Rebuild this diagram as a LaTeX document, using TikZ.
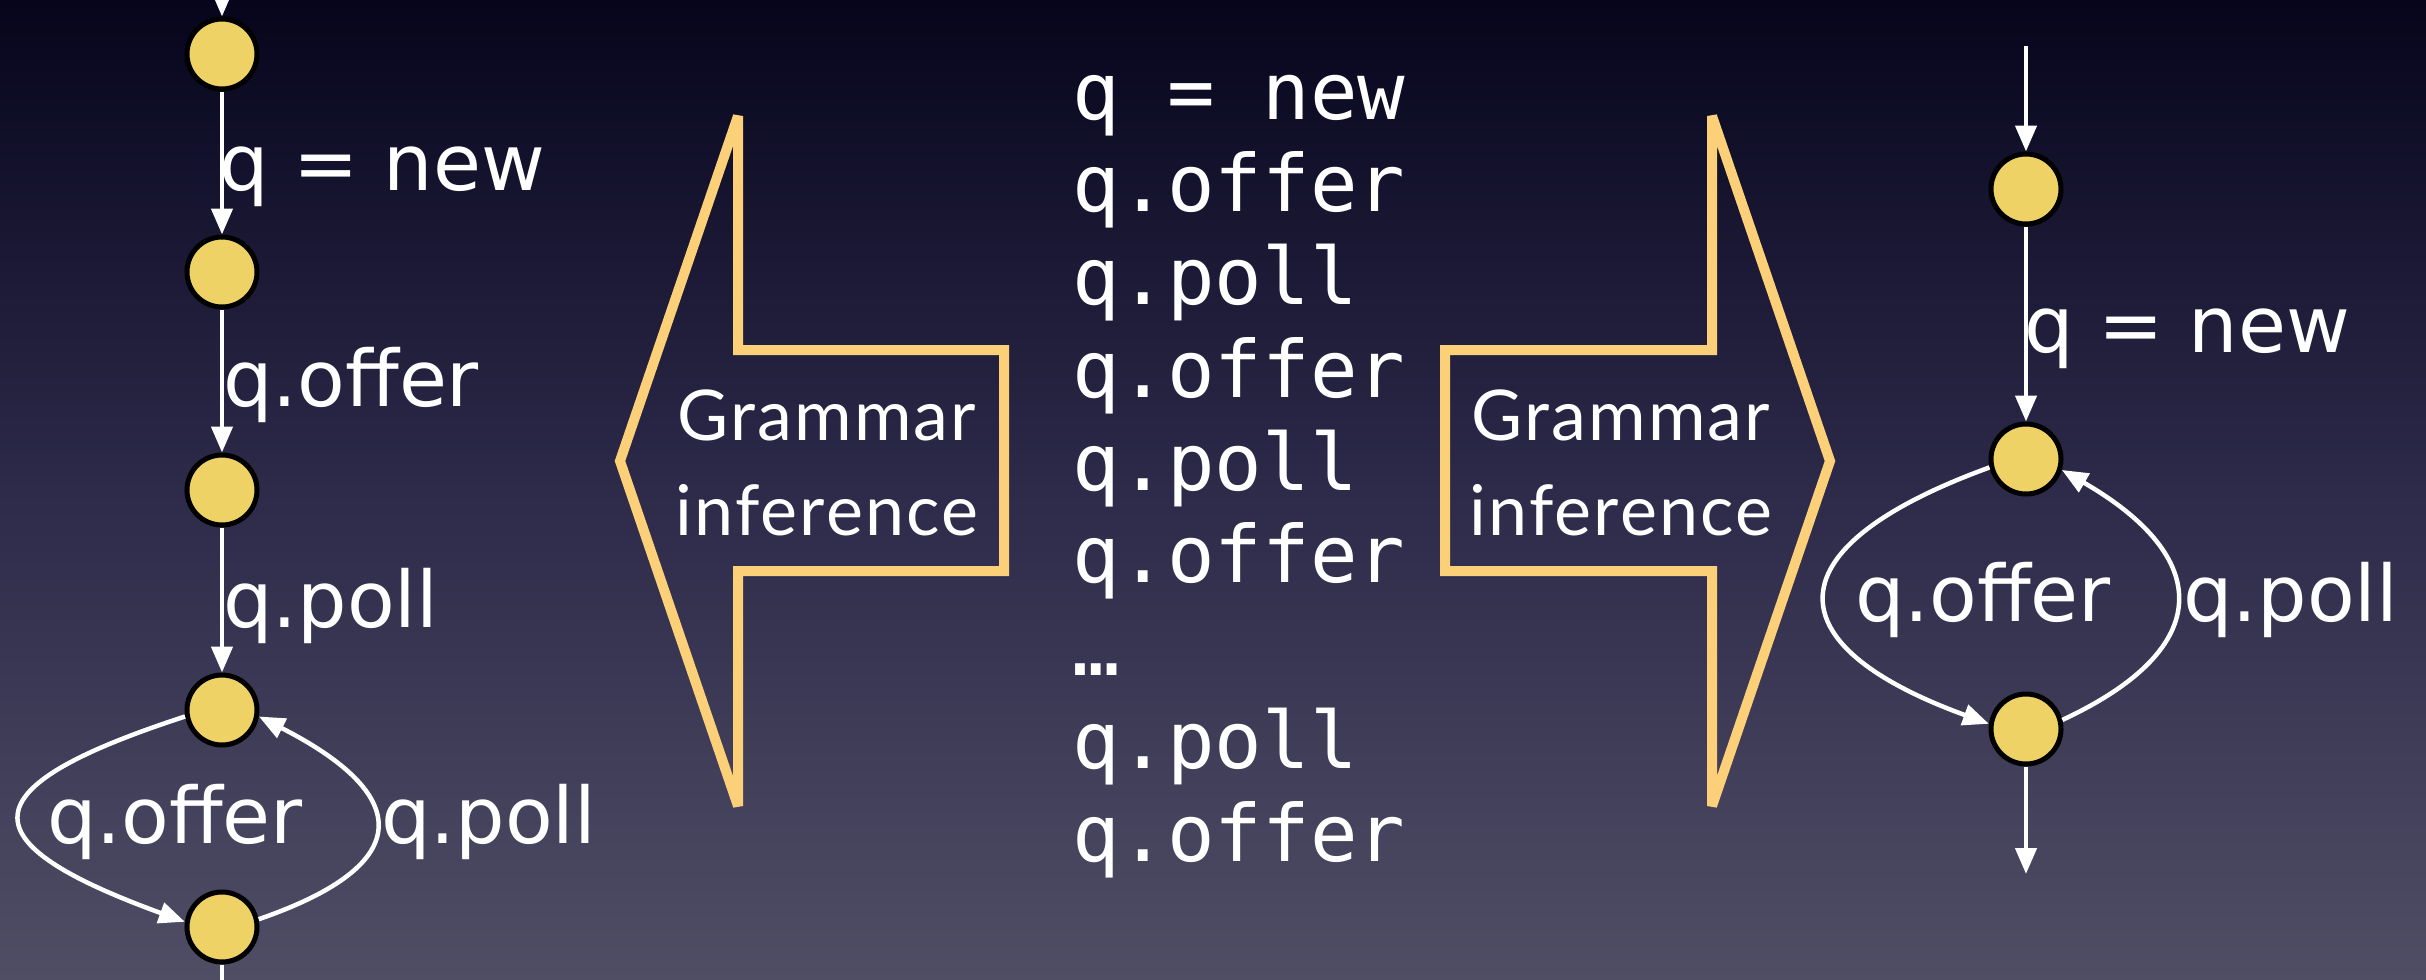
\documentclass[tikz,border=0pt]{standalone}
\usepackage{fontspec}
\setmainfont{DejaVu Sans}
\newfontfamily\monofont{DejaVu Sans Mono}
\newfontfamily\gillfont[LetterSpace=3]{Lato}
\usetikzlibrary{arrows.meta}
\definecolor{bgtop}{RGB}{6,5,28}
\definecolor{bgmid}{RGB}{45,42,74}
\definecolor{bgbot}{RGB}{80,78,101}
\definecolor{statefill}{RGB}{238,210,102}
\definecolor{arrowgold}{RGB}{252,208,120}
\begin{document}
\begin{tikzpicture}[x=1pt,y=1pt,
  state/.style={circle, fill=statefill, draw=black, line width=5pt, minimum size=70pt, inner sep=0pt},
  edge/.style={draw=white, line width=4.5pt, -{Triangle[length=26pt,width=21pt]}},
  plainedge/.style={draw=white, line width=4.5pt},
  lbl/.style={text=white, font=\fontsize{78}{90}\selectfont, inner sep=0pt},
  trace/.style={text=white, font=\monofont\fontsize{79}{92}\selectfont, inner sep=0pt, anchor=base west},
  fat/.style={draw=arrowgold, line width=10pt, line join=miter, miter limit=4},
  gi/.style={text=white, font=\gillfont\fontsize{70}{95}\selectfont, inner sep=0pt, anchor=base}
]
\useasboundingbox (0,0) rectangle (2426,-980);
\shade[top color=bgtop, bottom color=bgbot, middle color=bgmid] (0,0) rectangle (2426,-980);
\clip (0,0) rectangle (2426,-980);

% ---------- left graph ----------
\node[state] (L1) at (222,-54) {};
\node[state] (L2) at (222,-272) {};
\node[state] (L3) at (222,-490) {};
\node[state] (L4) at (222,-710) {};
\node[state] (L5) at (222,-927) {};
\coordinate (Lin) at (222,20);
\coordinate (Lout) at (222,-1000);

\draw[edge] (Lin) -- (L1);
\draw[edge] (L1) -- (L2);
\draw[edge] (L2) -- (L3);
\draw[edge] (L3) -- (L4);
\draw[edge] (L4.190) to[out=198,in=160,distance=232pt] (L5.172);
\draw[edge] (L5.12) to[out=19,in=-27,distance=170pt] (L4.-10);
\draw[plainedge] (L5) -- (Lout);

\node[lbl, anchor=base west] (lq1) at (219,-190) {q = new};
\node[lbl, anchor=base west] (lq2) at (223,-406) {q.offer};
\node[lbl, anchor=base west] (lq3) at (223,-627) {q.poll};
\node[lbl, anchor=base] (lq4) at (175,-843) {q.offer};
\node[lbl, anchor=base west] (lq5) at (381,-843) {q.poll};

% ---------- trace ----------
\node[trace] (t1) at (1072,-119) {q = new};
\node[trace] (t2) at (1072,-211) {q.offer};
\node[trace] (t3) at (1072,-304) {q.poll};
\node[trace] (t4) at (1072,-397) {q.offer};
\node[trace] (t5) at (1072,-490) {q.poll};
\node[trace] (t6) at (1072,-582) {q.offer};
\node[trace] (t7) at (1072,-675) {…};
\node[trace] (t8) at (1072,-768) {q.poll};
\node[trace] (t9) at (1072,-861) {q.offer};

% ---------- grammar inference arrows ----------
\draw[fat] (620,-461) -- (738,-116) -- (738,-350) -- (1004,-350) -- (1004,-571) -- (738,-571) -- (738,-806) -- cycle;
\draw[fat] (1830,-461) -- (1712,-116) -- (1712,-350) -- (1445,-350) -- (1445,-571) -- (1712,-571) -- (1712,-806) -- cycle;
\node[gi] (g1a) at (827,-440) {Grammar};
\node[gi] (g1b) at (827,-535) {inference};
\node[gi] (g2a) at (1621,-440) {Grammar};
\node[gi] (g2b) at (1621,-535) {inference};

% ---------- right graph ----------
\node[state] (R1) at (2026,-189) {};
\node[state] (R2) at (2026,-459) {};
\node[state] (R3) at (2026,-729) {};
\coordinate (Rin) at (2026,-46);
\coordinate (Rout) at (2026,-874);

\draw[edge] (Rin) -- (R1);
\draw[edge] (R1) -- (R2);
\draw[edge] (R2.193) to[out=200,in=160,distance=232pt] (R3.172);
\draw[edge] (R3.14) to[out=25,in=-30,distance=172pt] (R2.-17);
\draw[edge] (R3) -- (Rout);

\node[lbl, anchor=base west] (rq1) at (2024,-352) {q = new};
\node[lbl, anchor=base] (rq2) at (1983,-621) {q.offer};
\node[lbl, anchor=base west] (rq3) at (2183,-621) {q.poll};
\end{tikzpicture}
\end{document}
